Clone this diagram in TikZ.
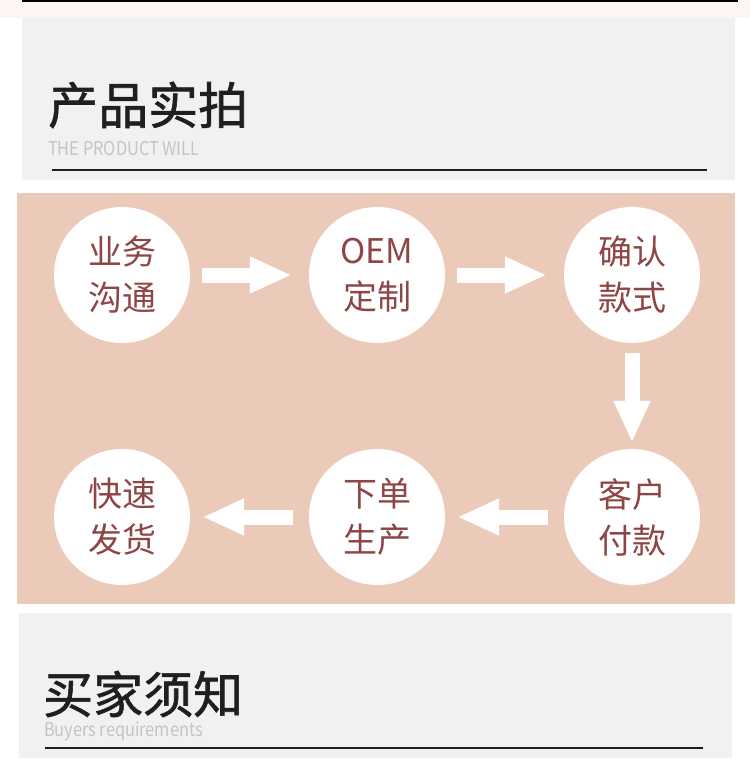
\documentclass[tikz,border=0pt]{standalone}
\usepackage{fontspec}
\setmainfont{Noto Sans CJK SC}
\newfontfamily\cjkfont{Noto Sans CJK SC}
\newfontfamily\titlefont[FakeBold=1.2]{Noto Sans CJK SC}
\newfontfamily\narrowfont[FakeStretch=0.86]{Noto Sans CJK SC}
\usetikzlibrary{arrows.meta}

\definecolor{peach}{HTML}{EBCAB9}
\definecolor{panelgray}{HTML}{F1F1F1}
\definecolor{topstrip}{HTML}{FFF4F4}
\definecolor{stepbrown}{HTML}{8E4545}
\definecolor{subgray}{HTML}{C4C4C4}
\definecolor{rulegray}{HTML}{1E1E1E}

\tikzset{
  stepcircle/.style={circle, fill=white, minimum size=136pt, inner sep=0pt,
    align=center, text=stepbrown, font=\cjkfont\fontsize{34}{46}\selectfont},
  flowarrow/.style={white, line width=15pt,
    -{Triangle[width=34pt,length=42pt]}, shorten <=12pt, shorten >=17pt},
  headtitle/.style={anchor=west, inner sep=0pt, text=black!88,
    font=\titlefont\fontsize{50}{50}\selectfont},
  subtitle/.style={anchor=west, inner sep=0pt, text=subgray,
    font=\narrowfont\fontsize{19}{19}\selectfont},
}

\begin{document}
\begin{tikzpicture}[x=1pt,y=-1pt]
\useasboundingbox (0,0) rectangle (750,769);
\fill[white] (0,0) rectangle (750,769);

% top strip and first panel
\fill[topstrip] (0,0) rectangle (750,18);
\draw[black, line width=1.6pt] (22,1) -- (738,1);
\fill[panelgray] (22,18) rectangle (735,180);
\node[headtitle] (title1) at (48,105) {产品实拍};
\node[subtitle] (sub1) at (48,149) {THE PRODUCT WILL};
\draw[rulegray, line width=2pt] (52,170) -- (707,170);

% process panel
\fill[peach] (17,193) rectangle (735,604);
\node[stepcircle] (talk) at (122,275) {业务\\沟通};
\node[stepcircle] (oem) at (377,275) {OEM\\定制};
\node[stepcircle] (confirm) at (632,275) {确认\\款式};
\node[stepcircle] (pay) at (632,517) {客户\\付款};
\node[stepcircle] (produce) at (377,517) {下单\\生产};
\node[stepcircle] (ship) at (122,517) {快速\\发货};

\draw[flowarrow] (talk) -- (oem);
\draw[flowarrow] (oem) -- (confirm);
\draw[flowarrow, shorten <=10pt, shorten >=6pt] (confirm) -- (pay);
\draw[flowarrow, shorten <=16pt, shorten >=12pt] (pay) -- (produce);
\draw[flowarrow, shorten <=16pt, shorten >=12pt] (produce) -- (ship);

% second panel
\fill[panelgray] (19,613) rectangle (732,758);
\node[headtitle] (title2) at (43,694) {买家须知};
\node[subtitle] (sub2) at (44,731) {Buyers requirements};
\draw[rulegray, line width=2pt] (45,748) -- (703,748);
\end{tikzpicture}
\end{document}
